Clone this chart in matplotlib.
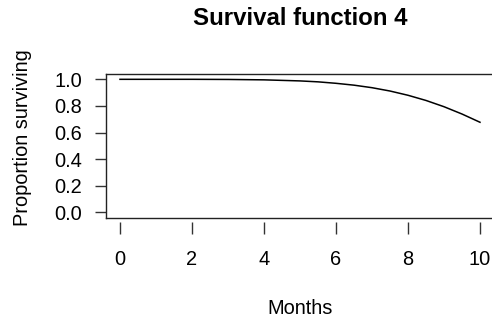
import matplotlib
matplotlib.use("Agg")
import matplotlib.pyplot as plt

# survival curve read at half-month steps
months = [0, 1, 2, 3, 4, 5, 5.5, 6, 6.5, 7, 7.5, 8, 8.5, 9, 9.5, 10]
surviving = [1.0, 1.0, 1.0, 0.999, 0.996, 0.988, 0.981, 0.970, 0.956,
             0.937, 0.912, 0.880, 0.841, 0.794, 0.739, 0.677]
x_ticks = [0, 2, 4, 6, 8, 10]
y_ticks = [0.0, 0.2, 0.4, 0.6, 0.8, 1.0]

plt.rcParams["font.family"] = ["Liberation Sans", "DejaVu Sans"]

W, H = 492, 321
fig = plt.figure(figsize=(W / 100, H / 100), dpi=100)
ax = fig.add_axes([105.6 / W, 1 - 217.6 / H, 388.8 / W, 143.6 / H])

ax.plot(months, surviving, color="black", lw=1.1)
ax.set_xlim(-0.4, 10.4)
ax.set_ylim(-0.04, 1.04)

ax.set_xticks(x_ticks)
ax.set_xticklabels([str(t) for t in x_ticks])
ax.set_yticks(y_ticks)
ax.set_yticklabels([f"{t:.1f}" for t in y_ticks])

for s in ax.spines.values():
    s.set_linewidth(1.0)
    s.set_color("#222222")
# x ticks hang a little below the box
ax.spines["bottom"].set_position(("outward", 3))
ax.spines["bottom"].set_color("none")
ax.plot([0, 1], [0, 0], transform=ax.transAxes, color="#222222", lw=1.0, clip_on=False)

ax.tick_params(axis="x", length=8.5, width=1.0, color="#333333", pad=12, labelsize=14.4)
ax.tick_params(axis="y", length=8, width=1.0, color="#333333", pad=9, labelsize=14.4)

fig.text(300 / W, 1 - 18.5 / H, "Survival function 4", ha="center", va="center",
         fontsize=17.3, fontweight="bold")
fig.text(300 / W, 1 - 308 / H, "Months", ha="center", va="center", fontsize=14.4)
fig.text(23 / W, 1 - 138 / H, "Proportion surviving", ha="center", va="center",
         rotation=90, fontsize=14.4)

fig.savefig("out.png", dpi=100)
